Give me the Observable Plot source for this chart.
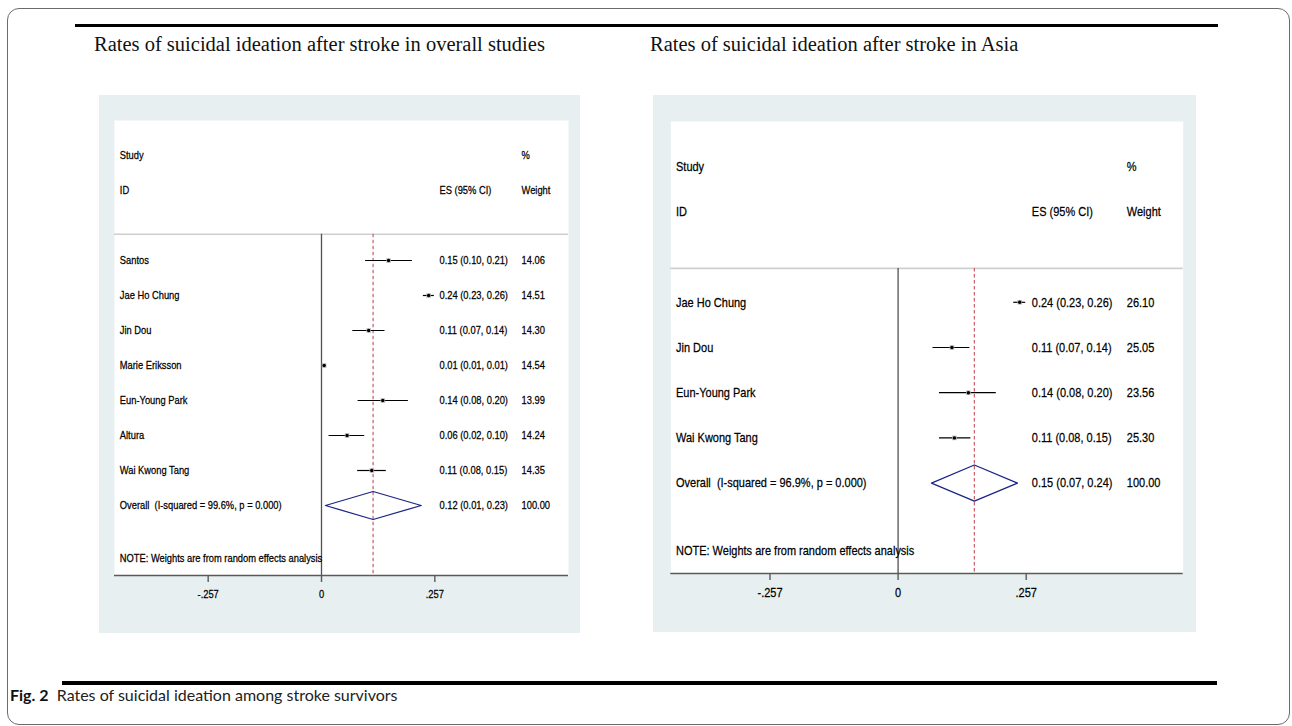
<!DOCTYPE html>
<html><head><meta charset="utf-8">
<script src="https://cdn.jsdelivr.net/npm/d3@7"></script>
<script src="https://cdn.jsdelivr.net/npm/@observablehq/plot@0.6"></script>
<style>
html,body{margin:0;padding:0;background:#fff;}
#page{position:relative;width:1292px;height:726px;overflow:hidden;}
.frame{position:absolute;left:7px;top:8px;width:1283px;height:717px;border:1px solid #6b6b6b;border-radius:12px;box-sizing:border-box;}
.rule{position:absolute;background:#000;}
.title{position:absolute;font-family:"Liberation Serif","Times New Roman",serif;font-size:20.5px;line-height:24px;color:#111;white-space:nowrap;}
.panel{position:absolute;}
.panel svg text{white-space:pre;}
.caption{position:absolute;left:10px;top:685px;font-family:Lato,"Open Sans",sans-serif;font-size:16px;line-height:20px;color:#222;white-space:pre;}
.caption b{font-weight:700;color:#111;}
</style>
</head><body>
<div id="page">
  <div class="frame"></div>
  <div class="rule" style="left:75px;top:24px;width:1143px;height:3px;"></div>
  <div class="title" style="left:94px;top:32px;">Rates of suicidal ideation after stroke in overall studies</div>
  <div class="title" style="left:650px;top:32px;">Rates of suicidal ideation after stroke in Asia</div>
  <div class="panel" id="p1" style="left:99px;top:95px;"></div>
  <div class="panel" id="p2" style="left:653px;top:95px;"></div>
  <div class="rule" style="left:62px;top:681px;width:1155px;height:3.5px;"></div>
  <div class="caption"><b>Fig. 2</b>  Rates of suicidal ideation among stroke survivors</div>
</div>
<script>
// ---- Panel 1: overall studies ----
const studies1 = ["Santos", "Jae Ho Chung", "Jin Dou", "Marie Eriksson", "Eun-Young Park", "Altura", "Wai Kwong Tang"];
const es1 = [0.152, 0.243, 0.107, 0.006, 0.139, 0.058, 0.114];
const lo1 = [0.100, 0.231, 0.071, 0.006, 0.083, 0.017, 0.082];
const hi1 = [0.206, 0.256, 0.144, 0.006, 0.197, 0.098, 0.147];
const wt1 = [14.06, 14.51, 14.30, 14.54, 13.99, 14.24, 14.35];
const overall1 = {es: 0.117, lo: 0.009, hi: 0.226, wt: 100.00, isq: "99.6%", p: "0.000"};

// ---- Panel 2: Asia ----
const studies2 = ["Jae Ho Chung", "Jin Dou", "Eun-Young Park", "Wai Kwong Tang"];
const es2 = [0.244, 0.108, 0.141, 0.113];
const lo2 = [0.232, 0.070, 0.083, 0.083];
const hi2 = [0.256, 0.144, 0.197, 0.146];
const wt2 = [26.10, 25.05, 23.56, 25.30];
const overall2 = {es: 0.153, lo: 0.067, hi: 0.2395, wt: 100.00, isq: "96.9%", p: "0.000"};

const xTicks = [-0.257, 0, 0.257];
const headerStudy = ["Study", "ID"];
const headerES = "ES (95% CI)";
const headerWt = ["%", "Weight"];
const noteText = "NOTE: Weights are from random effects analysis";

const FONT = '"Liberation Sans",Arial,sans-serif';
const NARROW = 0.82; // Arial Narrow look: horizontally condensed Arial-metric text
const f2 = d => d.toFixed(2);
const tickFmt = d => d === 0 ? "0" : d3.format(".3f")(d).replace("0.", ".").replace("\u2212", "-");

function forest(el, cfg) {
  const n = cfg.studies.length;
  const rows = cfg.studies.map((s, i) => ({i, s, es: cfg.es[i], lo: cfg.lo[i], hi: cfg.hi[i], wt: cfg.wt[i]}));
  const ov = cfg.overall;
  const bottom = n + 2, line = -0.75, hh = 0.4;
  const diamond = [
    {x: ov.lo, y: n}, {x: ov.es, y: n - hh}, {x: ov.hi, y: n}, {x: ov.es, y: n + hh}
  ];
  const allRows = rows.map(r => ({i: r.i, label: r.s, ci: `${f2(r.es)} (${f2(r.lo)}, ${f2(r.hi)})`, w: f2(r.wt)}))
    .concat([{i: n, label: `Overall  (I-squared = ${ov.isq}, p = ${ov.p})`, ci: `${f2(ov.es)} (${f2(ov.lo)}, ${f2(ov.hi)})`, w: f2(ov.wt)}]);
  const txt = {frameAnchor: "left", textAnchor: "start", fill: "#000", fontSize: cfg.fs};
  const chart = Plot.plot({
    width: cfg.width, height: cfg.height,
    marginLeft: cfg.ml, marginRight: cfg.mr, marginTop: cfg.mt, marginBottom: cfg.mb,
    style: {background: "#e8eff1", fontFamily: FONT, fontSize: cfg.fs + "px", color: "#000", overflow: "visible"},
    x: {domain: cfg.xdom, axis: null},
    y: {domain: [-4, bottom], reverse: true, axis: null},
    marks: [
      Plot.frame({fill: "#fff", stroke: "none"}),
      Plot.ruleY([line], {stroke: "#cfcfcf", strokeWidth: 1.6}),
      Plot.ruleX([0], {y1: line, y2: bottom, stroke: "#505050", strokeWidth: 1.3}),
      Plot.ruleX([ov.es], {y1: line, y2: bottom, stroke: "#c2606b", strokeWidth: 1.2, strokeDasharray: "3.5,2.5"}),
      Plot.ruleY(rows, {y: "i", x1: "lo", x2: "hi", stroke: "#000", strokeWidth: 1.2}),
      Plot.dot(rows, {x: "es", y: "i", symbol: "square", r: 2.6, fill: "#bdbdbd", stroke: "none"}),
      Plot.dot(rows, {x: "es", y: "i", r: 1.7, fill: "#000", stroke: "none"}),
      Plot.line(diamond, {x: "x", y: "y", curve: "linear-closed", stroke: "#1b2586", strokeWidth: 1.3}),
      // header
      Plot.text(headerStudy, {y: (d, k) => -3 + k, text: d => d, ...txt, dx: cfg.cStudy}),
      Plot.text([headerES], {y: [-2], text: d => d, ...txt, dx: cfg.cES}),
      Plot.text(headerWt, {y: (d, k) => -3 + k, text: d => d, ...txt, dx: cfg.cWt}),
      // rows
      Plot.text(allRows, {y: "i", text: "label", ...txt, dx: cfg.cStudy}),
      Plot.text(allRows, {y: "i", text: "ci", ...txt, dx: cfg.cES}),
      Plot.text(allRows, {y: "i", text: "w", ...txt, dx: cfg.cWt}),
      Plot.text([noteText], {y: [n + 1.5], text: d => d, ...txt, dx: cfg.cStudy}),
      // axis
      Plot.ruleY([bottom], {stroke: "#5a5a5a", strokeWidth: 1.6}),
      Plot.axisX({ticks: xTicks, tickFormat: tickFmt, tickSize: 7, tickPadding: 7, stroke: "#5a5a5a", strokeWidth: 1.4, fontSize: cfg.fs, fill: "#000"})
    ]
  });
  // condense all texts horizontally around their anchor point, and darken them slightly
  chart.querySelectorAll("text").forEach(t => {
    const x = +(t.getAttribute("x") || 0);
    const tr = t.getAttribute("transform") || "";
    t.setAttribute("transform", `${tr} translate(${x},0) scale(${NARROW},1) translate(${-x},0)`);
    t.style.stroke = "#000";
    t.style.strokeWidth = "0.25px";
  });
  document.getElementById(el).appendChild(chart);
}

forest("p1", {
  studies: studies1, es: es1, lo: lo1, hi: hi1, wt: wt1, overall: overall1,
  width: 481, height: 538, ml: 15, mr: 12, mt: 25, mb: 58,
  xdom: [-0.4694, 0.5601], fs: 11.4, cStudy: 5.3, cES: 325, cWt: 407
});
forest("p2", {
  studies: studies2, es: es2, lo: lo2, hi: hi2, wt: wt2, overall: overall2,
  width: 543, height: 537, ml: 17.3, mr: 13.3, mt: 26, mb: 59,
  xdom: [-0.456, 0.572], fs: 13.4, cStudy: 5.2, cES: 361, cWt: 456
});
</script>
</body></html>
